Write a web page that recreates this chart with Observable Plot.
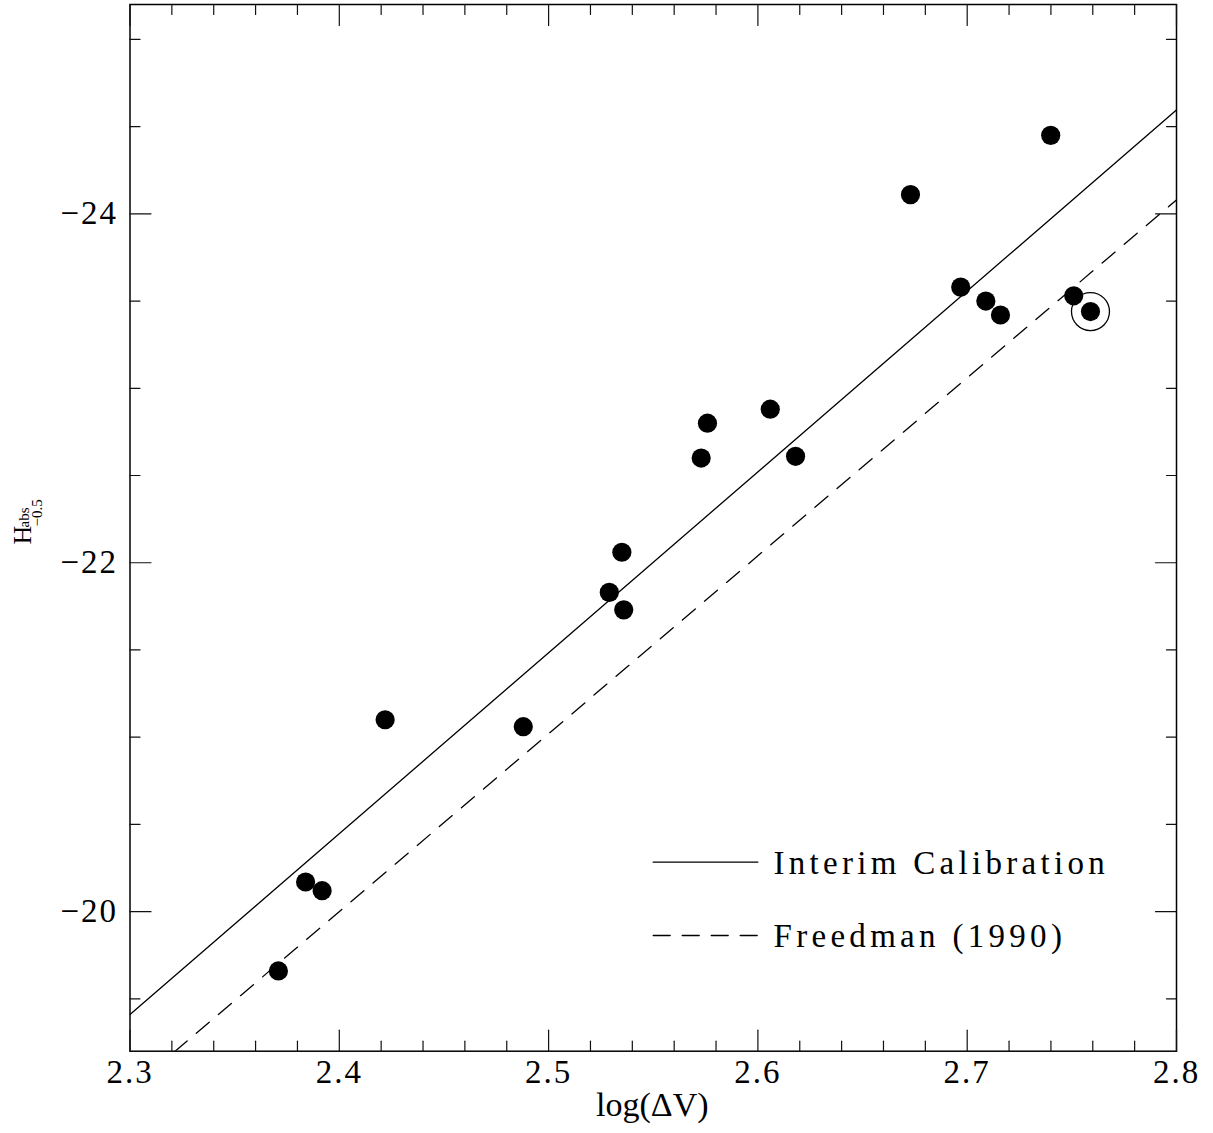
<!DOCTYPE html>
<html><head><meta charset="utf-8">
<script src="https://cdn.jsdelivr.net/npm/d3@7"></script>
<script src="https://cdn.jsdelivr.net/npm/@observablehq/plot@0.6"></script>
<style>
body{margin:0;background:#fff}
svg{display:block}
</style>
</head><body><div id="chart"></div>
<script>
// ---- data ----
const logDV = [2.3709, 2.3839, 2.3918, 2.4219, 2.4879, 2.5290, 2.5350, 2.5359, 2.5729, 2.5759,
               2.6059, 2.6180, 2.6729, 2.6969, 2.7089, 2.7159, 2.7399, 2.7509, 2.7589];
const Habs  = [-19.66, -20.17, -20.12, -21.10, -21.06, -21.83, -22.06, -21.73, -22.60, -22.80,
               -22.88, -22.61, -24.11, -23.58, -23.50, -23.42, -24.45, -23.53, -23.44];
const circled = [false, false, false, false, false, false, false, false, false, false,
                 false, false, false, false, false, false, false, false, true];

const fitLogDV  = [2.3, 2.8];
const interimH  = [-19.41, -24.595];
const freedmanH = [-18.98, -24.08];

const xMajorTicks = [2.3, 2.4, 2.5, 2.6, 2.7, 2.8];
const xMinorTicks = [2.32, 2.34, 2.36, 2.38, 2.42, 2.44, 2.46, 2.48, 2.52, 2.54, 2.56, 2.58,
                     2.62, 2.64, 2.66, 2.68, 2.72, 2.74, 2.76, 2.78];
const yMajorTicks = [-24, -22, -20];
const yMinorTicks = [-25, -24.5, -23.5, -23, -22.5, -21.5, -21, -20.5, -19.5];

const legendLabels = ["Interim Calibration", "Freedman (1990)"];
const xLabel = "log(ΔV)";
const yLabelParts = ["H", "abs", "−0.5"];

// ---- build ----
const points = logDV.map((x, i) => ({x, y: Habs[i], circled: circled[i]}));
const interim = fitLogDV.map((x, i) => ({x, y: interimH[i]}));
const freedman = fitLogDV.map((x, i) => ({x, y: freedmanH[i]}));

const line = {draw(context, l) { context.moveTo(0, 0); context.lineTo(0, -l); }};
const tickStyle = {anchor: "start", shape: line, stroke: "#111", strokeWidth: 1.2};
const MAJ = 21, MIN = 10;
function ticks(data, frameAnchor, rotate, length) {
  const isX = frameAnchor === "top" || frameAnchor === "bottom";
  return Plot.vector(data, {...(isX ? {x: d => d} : {y: d => d}), frameAnchor, rotate, length, ...tickStyle});
}
const minus = d => (d < 0 ? "−" : "") + Math.abs(d);

const DASH = "17,12";
const plot = Plot.plot({
  width: 1213,
  height: 1133,
  marginLeft: 129.5,
  marginRight: 37,
  marginTop: 4,
  marginBottom: 82.3,
  style: {fontFamily: "'Liberation Serif', serif", color: "#000", background: "#fff"},
  x: {domain: [2.3, 2.8]},
  y: {domain: [-19.2, -25.2]},
  marks: [
    Plot.frame({stroke: "#000", strokeWidth: 1.5}),
    ticks(xMajorTicks, "bottom", 0, MAJ),
    ticks(xMinorTicks, "bottom", 0, MIN),
    ticks(xMajorTicks, "top", 180, MAJ),
    ticks(xMinorTicks, "top", 180, MIN),
    ticks(yMajorTicks, "left", 90, MAJ),
    ticks(yMinorTicks, "left", 90, MIN),
    ticks(yMajorTicks, "right", -90, MAJ),
    ticks(yMinorTicks, "right", -90, MIN),
    Plot.axisX({ticks: xMajorTicks, tickSize: 0, tickPadding: 8, fontSize: 33, tickFormat: ".1f", label: null}),
    Plot.axisY({ticks: yMajorTicks, tickSize: 0, tickPadding: 12, fontSize: 33, tickFormat: minus, label: null}),
    Plot.line(interim, {x: "x", y: "y", stroke: "#000", strokeWidth: 1.3, clip: true}),
    Plot.line(freedman, {x: "x", y: "y", stroke: "#000", strokeWidth: 1.3, strokeDasharray: DASH, clip: true}),
    Plot.dot(points, {x: "x", y: "y", r: 9.6, fill: "#000"}),
    Plot.dot(points.filter(d => d.circled), {x: "x", y: "y", r: 19, stroke: "#000", strokeWidth: 1.3, fill: "none"}),
    // legend
    Plot.vector([legendLabels[0]], {frameAnchor: "top-left", dx: 523.2, dy: 857.7, length: 104.6, rotate: 90, anchor: "start", shape: line, stroke: "#000", strokeWidth: 1.3}),
    Plot.vector([legendLabels[1]], {frameAnchor: "top-left", dx: 523.2, dy: 931, length: 104.6, rotate: 90, anchor: "start", shape: line, stroke: "#000", strokeWidth: 1.3, strokeDasharray: DASH}),
    Plot.text([legendLabels[0]], {frameAnchor: "top-left", dx: 643.5, dy: 858.5, textAnchor: "start", lineAnchor: "middle", fontSize: 33, fill: "#000"}),
    Plot.text([legendLabels[1]], {frameAnchor: "top-left", dx: 643.5, dy: 931.5, textAnchor: "start", lineAnchor: "middle", fontSize: 33, fill: "#000"}),
    // axis labels
    Plot.text([xLabel], {frameAnchor: "bottom", dx: -1, dy: 54, lineAnchor: "middle", fontSize: 34, fill: "#000"}),
    Plot.text([yLabelParts[0]], {frameAnchor: "left", dx: -107.1, dy: 16.6, rotate: -90, textAnchor: "start", lineAnchor: "middle", fontSize: 26, fill: "#000"}),
    Plot.text([yLabelParts[1]], {frameAnchor: "left", dx: -106, dy: -0.4, rotate: -90, textAnchor: "start", lineAnchor: "middle", fontSize: 15, fill: "#000"}),
    Plot.text([yLabelParts[2]], {frameAnchor: "left", dx: -92.6, dy: -1.4, rotate: -90, textAnchor: "start", lineAnchor: "middle", fontSize: 15, fill: "#000"})
  ]
});
document.getElementById("chart").appendChild(plot);

// letter spacing to mimic the wide plotting font
d3.select(plot).selectAll("text").each(function() {
  const t = this.textContent;
  if (legendLabels.includes(t)) this.setAttribute("letter-spacing", "4.3");
  else if (/^[−\d.]+$/.test(t) && this.closest("g[aria-label^='x-axis'], g[aria-label^='y-axis']")) this.setAttribute("letter-spacing", "2");
});
</script>
</body></html>
